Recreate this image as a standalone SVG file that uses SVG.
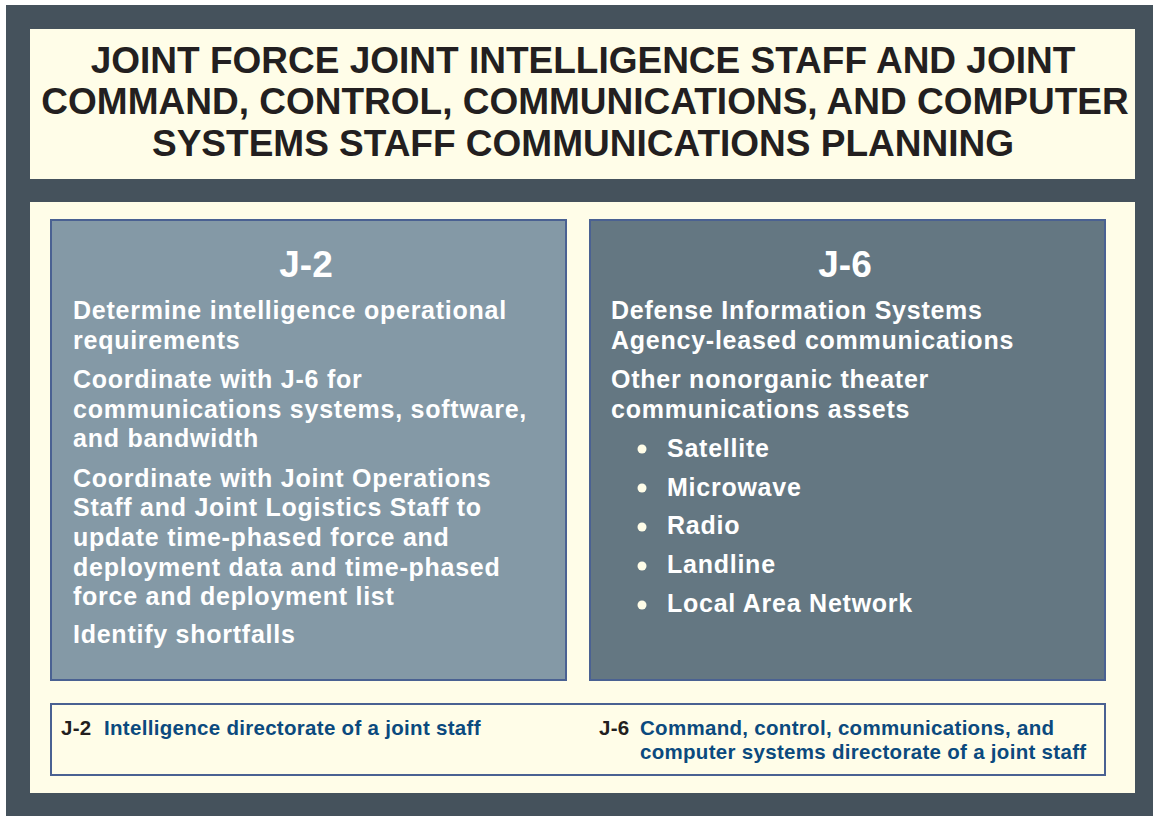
<svg xmlns="http://www.w3.org/2000/svg" width="1153" height="816" viewBox="0 0 1153 816">
<style>
.t{font-family:"Liberation Sans",Arial,sans-serif;font-weight:bold}
.title{font-size:37px;fill:#231f20;text-anchor:middle}
.head{font-size:37px;fill:#ffffff;text-anchor:middle}
.body{font-size:25px;fill:#ffffff;letter-spacing:0.75px}
.lk{font-size:20.5px;fill:#231f20;letter-spacing:0.3px}
.lv{font-size:20.5px;fill:#0b4a7e;letter-spacing:0.3px}
.box{stroke:#4a6192;stroke-width:2}
</style>
<rect x="0" y="0" width="1153" height="816" fill="#ffffff"/>
<rect x="6" y="5" width="1147" height="811" fill="#45525c"/>
<g id="title">
<rect x="30" y="29" width="1105" height="150" fill="#fffde8"/>
<text class="t title" x="583" y="73">JOINT FORCE JOINT INTELLIGENCE STAFF AND JOINT</text>
<text class="t title" x="585" y="114">COMMAND, CONTROL, COMMUNICATIONS, AND COMPUTER</text>
<text class="t title" x="583" y="156">SYSTEMS STAFF COMMUNICATIONS PLANNING</text>
</g>
<rect x="30" y="202" width="1105" height="591" fill="#fffde8"/>
<g id="j2">
<rect class="box" x="51" y="220" width="515" height="460" fill="#8499a6"/>
<text class="t head" x="306" y="277">J-2</text>
<text class="t body" x="73" y="319">Determine intelligence operational</text>
<text class="t body" x="73" y="349">requirements</text>
<text class="t body" x="73" y="388">Coordinate with J-6 for</text>
<text class="t body" x="73" y="418">communications systems, software,</text>
<text class="t body" x="73" y="447">and bandwidth</text>
<text class="t body" x="73" y="487">Coordinate with Joint Operations</text>
<text class="t body" x="73" y="516">Staff and Joint Logistics Staff to</text>
<text class="t body" x="73" y="546">update time-phased force and</text>
<text class="t body" x="73" y="576">deployment data and time-phased</text>
<text class="t body" x="73" y="605">force and deployment list</text>
<text class="t body" x="73" y="643">Identify shortfalls</text>
</g>
<g id="j6">
<rect class="box" x="590" y="220" width="515" height="460" fill="#647782"/>
<text class="t head" x="845" y="277">J-6</text>
<text class="t body" x="611" y="319">Defense Information Systems</text>
<text class="t body" x="611" y="349">Agency-leased communications</text>
<text class="t body" x="611" y="388">Other nonorganic theater</text>
<text class="t body" x="611" y="418">communications assets</text>
<g fill="#fffde8">
<circle cx="642" cy="449" r="4.5"/>
<circle cx="642" cy="488" r="4.5"/>
<circle cx="642" cy="527" r="4.5"/>
<circle cx="642" cy="566" r="4.5"/>
<circle cx="642" cy="605" r="4.5"/>
</g>
<text class="t body" x="667" y="457">Satellite</text>
<text class="t body" x="667" y="496">Microwave</text>
<text class="t body" x="667" y="534">Radio</text>
<text class="t body" x="667" y="573">Landline</text>
<text class="t body" x="667" y="612">Local Area Network</text>
</g>
<g id="legend">
<rect class="box" x="51" y="704" width="1054" height="71" fill="#fffde8"/>
<text class="t lk" x="61" y="735">J-2</text>
<text class="t lv" x="104" y="735">Intelligence directorate of a joint staff</text>
<text class="t lk" x="599" y="735">J-6</text>
<text class="t lv" x="640" y="735">Command, control, communications, and</text>
<text class="t lv" x="640" y="759">computer systems directorate of a joint staff</text>
</g>
<g id="connectors"></g>
</svg>
